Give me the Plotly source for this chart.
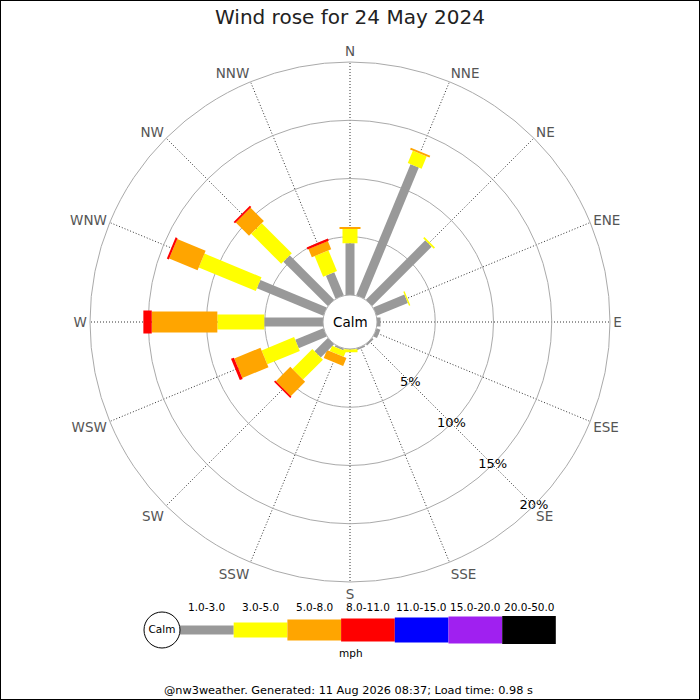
import math
import plotly.graph_objects as go

# wind rose, 24 May 2024 (percent of time per direction and speed class)
directions = ["N", "NNE", "NE", "ENE", "E", "ESE", "SE", "SSE",
              "S", "SSW", "SW", "WSW", "W", "WNW", "NW", "NNW"]
speed_bins = ["1.0-3.0", "3.0-5.0", "5.0-8.0", "8.0-11.0",
              "11.0-15.0", "15.0-20.0", "20.0-50.0"]

freq_1_3 = [4.44, 12.19, 7.21, 2.90, 0.30, 0.35, 0.15, 0.15,
            0.02, 0.15, 1.61, 2.61, 5.04, 6.17, 5.39, 2.15]
freq_3_5 = [1.23, 1.14, 0.15, 0.12, 0.0, 0.0, 0.0, 0.0,
            0.25, 0.50, 2.42, 3.02, 4.03, 5.30, 3.65, 1.92]
freq_5_8 = [0.17, 0.18, 0.0, 0.0, 0.0, 0.0, 0.0, 0.0,
            0.0, 0.75, 1.75, 2.43, 5.63, 2.64, 1.61, 0.76]
freq_8_11 = [0.0, 0.0, 0.0, 0.0, 0.0, 0.0, 0.0, 0.0,
             0.0, 0.0, 0.13, 0.27, 0.72, 0.18, 0.17, 0.19]
freq_11_15 = [0.0, 0.0, 0.0, 0.0, 0.0, 0.0, 0.0, 0.0,
              0.0, 0.0, 0.0, 0.0, 0.0, 0.0, 0.0, 0.0]
freq_15_20 = [0.0, 0.0, 0.0, 0.0, 0.0, 0.0, 0.0, 0.0,
              0.0, 0.0, 0.0, 0.0, 0.0, 0.0, 0.0, 0.0]
freq_20_50 = [0.0, 0.0, 0.0, 0.0, 0.0, 0.0, 0.0, 0.0,
              0.0, 0.0, 0.0, 0.0, 0.0, 0.0, 0.0, 0.0]

ring_vals = [5, 10, 15, 20]
ring_text = ["5%", "10%", "15%", "20%"]

title = "Wind rose for 24 May 2024"
footer = "@nw3weather. Generated: 11 Aug 2026 08:37; Load time: 0.98 s"

# styling
colors = ["#999999", "#ffff00", "#ffa500", "#ff0000", "#0000ff", "#a020f0", "#000000"]
bar_px = [9, 15, 21, 23, 25, 27, 28]   # bar thickness in pixels per class
FONT = "DejaVu Sans"

W = H = 700
CX, CY = 350, 322          # rose centre (px)
R_OUT = 260                # outer ring radius (px)
HOLE_PX = 27               # calm circle radius (px)
R_MAX = 20
K = (R_OUT - HOLE_PX) / R_MAX   # px per percent

series = [freq_1_3, freq_3_5, freq_5_8, freq_8_11, freq_11_15, freq_15_20, freq_20_50]


def rect(theta, r0, r1, half):
    # a straight-sided bar expressed in polar data coords
    a0 = HOLE_PX + r0 * K
    a1 = HOLE_PX + r1 * K
    pts = [(a0, -half), (a1, -half), (a1, half), (a0, half), (a0, -half)]
    rr = [(math.hypot(a, b) - HOLE_PX) / K for a, b in pts]
    tt = [theta + math.degrees(math.atan2(b, a)) for a, b in pts]
    return rr, tt


fig = go.Figure()

for i, d in enumerate(directions):
    theta = i * 22.5
    base = 0.0
    for j, s in enumerate(series):
        v = s[i]
        if v <= 0:
            continue
        rr, tt = rect(theta, base, base + v, bar_px[j] / 2)
        fig.add_trace(go.Scatterpolar(
            r=rr, theta=tt, mode="lines", fill="toself",
            fillcolor=colors[j], line=dict(width=0, color=colors[j]),
            hoverinfo="skip", showlegend=False))
        base += v

fig.add_trace(go.Scatterpolar(
    r=ring_vals, theta=[135] * len(ring_vals), mode="text", text=ring_text,
    textfont=dict(family=FONT, size=13, color="#000"), cliponaxis=False,
    hoverinfo="skip", showlegend=False))

# legend strip as a small bar chart
leg_unit = 53.7
leg_left = 180 - 0.7 * leg_unit
leg_right = 180 + 7 * leg_unit
fig.add_trace(go.Bar(
    x=list(range(len(speed_bins))), y=bar_px,
    base=[-h / 2 for h in bar_px], width=1,
    marker=dict(color=colors, line=dict(width=0)),
    xaxis="x", yaxis="y", hoverinfo="skip", showlegend=False))
fig.add_trace(go.Scatter(
    x=[-0.5 - 18 / leg_unit], y=[0], mode="markers+text", text=["Calm"],
    textposition="middle center",
    textfont=dict(family=FONT, size=10.5, color="#000"),
    marker=dict(size=36, color="white", line=dict(color="#000", width=1)),
    cliponaxis=False, xaxis="x", yaxis="y", hoverinfo="skip", showlegend=False))

annotations = [
    dict(text="Calm", x=CX / W, y=1 - CY / H, xref="paper", yref="paper",
         yanchor="middle", showarrow=False,
         font=dict(family=FONT, size=13.5, color="#000")),
    dict(text="mph", x=351 / W, y=1 - 653 / H, xref="paper", yref="paper",
         yanchor="middle", showarrow=False,
         font=dict(family=FONT, size=10.5, color="#000")),
    dict(text=footer, x=348 / W, y=1 - 690 / H, xref="paper", yref="paper",
         yanchor="middle", showarrow=False,
         font=dict(family=FONT, size=11.3, color="#000")),
]
for i, lab in enumerate(speed_bins):
    annotations.append(dict(text=lab, x=i, y=1 - 607 / H, xref="x", yref="paper",
                            yanchor="middle", showarrow=False,
                            font=dict(family=FONT, size=10.5, color="#000")))

fig.update_layout(
    width=W, height=H,
    margin=dict(l=0, r=0, t=0, b=0),
    paper_bgcolor="white", plot_bgcolor="white",
    font=dict(family=FONT),
    title=dict(text=title, x=0.5, y=1 - 17 / H, xanchor="center", yanchor="middle",
               font=dict(family=FONT, size=20, color="#222")),
    showlegend=False,
    polar=dict(
        domain=dict(x=[(CX - R_OUT) / W, (CX + R_OUT) / W],
                    y=[1 - (CY + R_OUT) / H, 1 - (CY - R_OUT) / H]),
        hole=HOLE_PX / R_OUT,
        bgcolor="white",
        radialaxis=dict(range=[0, R_MAX], tickvals=ring_vals, showticklabels=False,
                        ticks="", showline=False, gridcolor="#aaaaaa", gridwidth=1),
        angularaxis=dict(rotation=90, direction="clockwise",
                         tickmode="array", tickvals=[i * 22.5 for i in range(16)],
                         ticktext=directions, ticks="",
                         tickfont=dict(family=FONT, size=13.5, color="#555"),
                         showline=True, linecolor="#aaaaaa", linewidth=1,
                         gridcolor="#333333", gridwidth=1, griddash="1px,2px"),
    ),
    xaxis=dict(domain=[leg_left / W, leg_right / W], range=[-1.2, 6.5],
               visible=False, fixedrange=True),
    yaxis=dict(domain=[1 - 648 / H, 1 - 612 / H], range=[-18, 18],
               visible=False, fixedrange=True),
    annotations=annotations,
    shapes=[dict(type="rect", xref="paper", yref="paper", x0=0, y0=0, x1=1, y1=1,
                 line=dict(color="#000", width=2))],
)

# page body has a default 8px margin; drop it so the figure sits at the corner
fig.write_html("out.html", config={"displayModeBar": False},
               post_script="document.body.style.margin='0px';")
